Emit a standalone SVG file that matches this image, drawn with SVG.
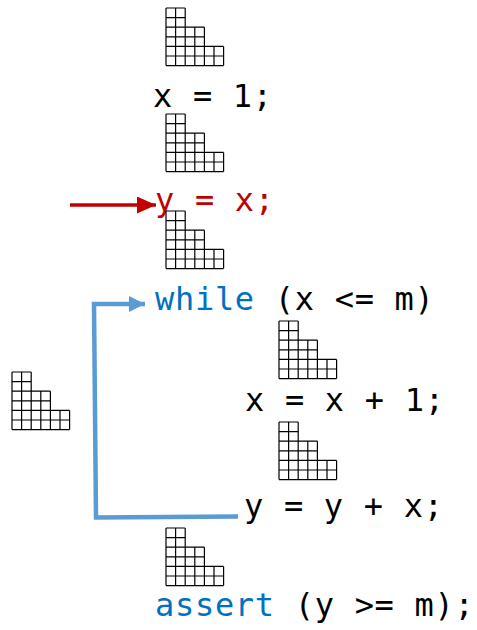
<svg xmlns="http://www.w3.org/2000/svg" xmlns:xlink="http://www.w3.org/1999/xlink" width="477" height="630" viewBox="0 0 477 630">
<style>
.code{font-family:"DejaVu Sans Mono","Liberation Mono",monospace;font-size:32px;letter-spacing:0.7px;fill:#000}
.red{fill:#C00000}
.kw{fill:#0070C0}
.grid{fill:none;stroke:#000;stroke-width:1.2}
</style>
<defs>
<g id="stair">
<path class="grid" d="M0,0V57.6M9.6,0V57.6M19.2,0V57.6M28.8,19.2V57.6M38.4,19.2V57.6M48,38.4V57.6M57.6,38.4V57.6M0,0H19.2M0,9.6H19.2M0,19.2H38.4M0,28.8H38.4M0,38.4H57.6M0,48H57.6M0,57.6H57.6"/>
</g>
<marker id="redHead" markerUnits="userSpaceOnUse" markerWidth="20" markerHeight="18" refX="19" refY="8.5" orient="auto">
<path d="M0,0L19,8.5L0,17Z" fill="#C00000"/>
</marker>
<marker id="blueHead" markerUnits="userSpaceOnUse" markerWidth="18" markerHeight="18" refX="16" refY="8" orient="auto">
<path d="M0,0L16,8L0,16Z" fill="#5B9BD5"/>
</marker>
</defs>
<rect width="477" height="630" fill="#fff"/>
<g id="connectors">
<path d="M70,205H156" fill="none" stroke="#C00000" stroke-width="3.5" marker-end="url(#redHead)"/>
<path d="M238,516.5L96,517.5L94,304H145" fill="none" stroke="#5B9BD5" stroke-width="4.5" marker-end="url(#blueHead)"/>
</g>
<g id="state0"><use xlink:href="#stair" href="#stair" x="166" y="8"/></g>
<g id="stmt_x1"><text class="code" x="153" y="107">x = 1;</text></g>
<g id="state1"><use xlink:href="#stair" href="#stair" x="166" y="114"/></g>
<g id="stmt_yx"><text class="code red" x="155" y="211">y = x;</text></g>
<g id="state2"><use xlink:href="#stair" href="#stair" x="166" y="211"/></g>
<g id="stmt_while"><text class="code" x="155" y="310"><tspan class="kw">while</tspan> (x &lt;= m)</text></g>
<g id="state_loop"><use xlink:href="#stair" href="#stair" x="12" y="372"/></g>
<g id="state3"><use xlink:href="#stair" href="#stair" x="279" y="321"/></g>
<g id="stmt_xinc"><text class="code" x="245" y="411">x = x + 1;</text></g>
<g id="state4"><use xlink:href="#stair" href="#stair" x="279" y="422"/></g>
<g id="stmt_yinc"><text class="code" x="244" y="517">y = y + x;</text></g>
<g id="state5"><use xlink:href="#stair" href="#stair" x="166" y="528"/></g>
<g id="stmt_assert"><text class="code" x="155" y="616"><tspan class="kw">assert</tspan> (y &gt;= m);</text></g>
</svg>
